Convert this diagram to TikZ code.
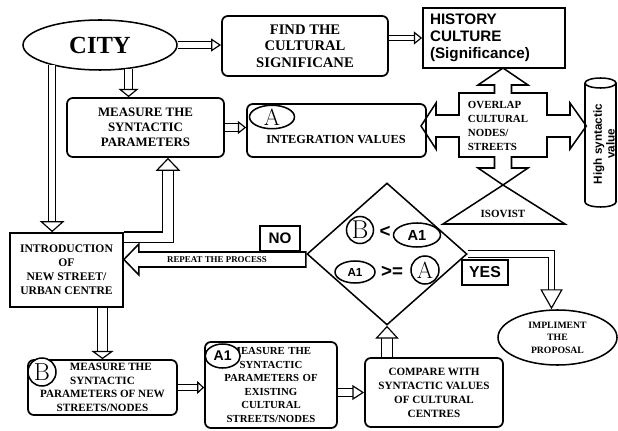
\documentclass[tikz,border=0pt]{standalone}
\usepackage{fontspec}
\newfontfamily\bookfont{Liberation Serif}
\newfontfamily\arialfont{Liberation Sans}
\usetikzlibrary{shapes.geometric,arrows.meta,calc}

\begin{document}
\begin{tikzpicture}[line width=1pt]
      \tikzset{
	  sharpbox/.style={rectangle,draw=black,line width=1.5pt,inner sep=0pt,fill=white},
	  roundbox/.style={rectangle,rounded corners=5pt,draw=black,line width=1.5pt,inner sep=0pt,align=center},
	  oval/.style={ellipse,draw=black,line width=1.3pt,inner sep=0pt,fill=white},
	  roundmark/.style={circle,draw=black,line width=1.3pt,inner sep=0pt,fill=white},
	  outline/.style={draw=black,line width=1.3pt},
	  serif/.style 2 args={font=\bookfont\bfseries\fontsize{#1}{#2}\selectfont,align=center},
	  sans/.style 2 args={font=\arialfont\bfseries\fontsize{#1}{#2}\selectfont},
	  dblarrow/.style n args={3}{line width=1pt,double,double distance=#1,-{Triangle[open,length=#2,width=#3]}}
      }

      \useasboundingbox (0,0) rectangle (18.54,12.9);

      \def\crosspath{+(0,1.74) -- +(0.75,1.23) -- +(0.255,1.23) -- +(0.255,0.99) -- +(1.32,0.99) -- +(1.32,0.33) -- +(2.01,0.33) -- +(2.01,0.69) -- +(2.5,0) -- +(2.01,-0.69) -- +(2.01,-0.33) -- +(1.32,-0.33) -- +(1.32,-0.93) -- +(0.255,-0.93) -- +(0.255,-1.26) -- +(0.75,-1.26) -- +(0,-1.77) -- +(-0.75,-1.26) -- +(-0.255,-1.26) -- +(-0.255,-0.93) -- +(-1.32,-0.93) -- +(-1.32,-0.33) -- +(-2.01,-0.33) -- +(-2.01,-0.69) -- +(-2.46,0) -- +(-2.01,0.69) -- +(-2.01,0.33) -- +(-1.32,0.33) -- +(-1.32,0.99) -- +(-0.255,0.99) -- +(-0.255,1.23) -- +(-0.75,1.23) -- cycle}

      \def\repeatpath{-- +(0.45,0.465) -- +(0.45,0.225) -- +(5.46,0.225) -- +(5.46,-0.225) -- +(0.45,-0.225) -- +(0.45,-0.465) -- cycle}

      % top row
      \node[oval,minimum width=4.62cm,minimum height=1.5cm,serif={21}{21}] (city) at (3.0,11.55) {CITY};
      \node[roundbox,minimum width=4.98cm,minimum height=1.8cm,serif={12.5}{14}] (find) at (9.15,11.52) {FIND THE\\CULTURAL\\SIGNIFICANE};
      \node[sharpbox,minimum width=4.26cm,minimum height=1.8cm,text width=3.84cm,inner xsep=0.21cm,align=left,sans={13}{14.6}] (hist) at (14.82,11.76) {HISTORY\\CULTURE\\(Significance)};

      % second row
      \node[roundbox,minimum width=4.71cm,minimum height=1.77cm,serif={11}{12.75}] (measure) at (4.365,9.075) {MEASURE THE\\SYNTACTIC\\PARAMETERS};
      \node[roundbox,minimum width=5.37cm,minimum height=1.59cm] (integ) at (10.095,8.985) {};
      \node[serif={10.5}{12}] (integtext) at (10.08,8.7) {INTEGRATION VALUES};
      \node[oval,minimum width=1.35cm,minimum height=0.66cm,font=\fontsize{20}{20}\selectfont] (amark) at (8.16,9.39) {A};

      \coordinate (ov) at (15.09,9.12);
      \draw[outline] (ov) \crosspath;
      \node[serif={9.3}{12},align=left] (overlap) at (14.94,9.12) {OVERLAP\\CULTURAL\\NODES/\\STREETS};
      \draw[outline] (ov) ++(0,-1.77) -- (16.95,6.18) -- (13.29,6.18) -- cycle;
      \node[serif={9.4}{10}] (isovist) at (15.09,6.48) {ISOVIST};

      % cylinder
      \draw[outline] (17.55,10.41) -- (17.55,6.84) arc[start angle=180,end angle=360,x radius=0.465,y radius=0.15] -- (18.48,10.41);
      \draw[outline] (18.015,10.41) ellipse[x radius=0.465,y radius=0.15];
      \node[rotate=90,inner sep=0pt,sans={10}{11},align=center] (high) at (18.12,8.58) {High syntactic\\value};

      % decision
      \node[diamond,draw,line width=1.3pt,minimum width=4.8cm,minimum height=4.26cm,inner sep=0pt] (dia) at (11.61,5.28) {};
      \node[roundmark,minimum size=0.81cm,font=\fontsize{22}{22}\selectfont] (bmark) at (10.8,6.0) {B};
      \node[sans={16}{16}] (less) at (11.55,5.94) {<};
      \node[oval,minimum width=1.41cm,minimum height=0.72cm,sans={12.5}{12.5}] (aonetop) at (12.51,5.85) {A1};
      \node[oval,minimum width=1.2cm,minimum height=0.66cm,sans={10}{10}] (aonelow) at (10.65,4.74) {A1};
      \node[sans={16}{16}] (geq) at (11.76,4.74) {>=};
      \node[roundmark,minimum size=0.84cm,font=\fontsize{20}{20}\selectfont] (amarktwo) at (12.75,4.8) {A};

      \node[sharpbox,minimum width=3.39cm,minimum height=2.22cm,serif={9.9}{12}] (intro) at (1.995,4.8) {INTRODUCTION\\OF\\NEW STREET/\\URBAN CENTRE};
      \draw[outline,fill=white] (intro.east |- 0,5.115) \repeatpath;
      \node[serif={7.6}{8}] (repeat) at (6.51,5.115) {REPEAT THE PROCESS};
      \node[sharpbox,minimum width=1.2cm,minimum height=0.75cm,sans={13}{13}] (no) at (8.4,5.745) {NO};
      \node[sharpbox,minimum width=1.38cm,minimum height=0.75cm,sans={13.5}{13.5}] (yes) at (14.55,4.725) {YES};

      % bottom row
      \node[roundbox,minimum width=4.47cm,minimum height=1.65cm,serif={9.5}{11.5}] (mb) at (3.075,1.275) {\hspace*{1.5em}MEASURE THE\\SYNTACTIC\\PARAMETERS OF NEW\\STREETS/NODES};
      \node[roundmark,minimum size=0.84cm,font=\fontsize{21}{21}\selectfont] (bmarktwo) at (1.26,1.74) {B};
      \node[roundbox,minimum width=3.96cm,minimum height=2.58cm,text width=3.3cm,inner xsep=0.33cm,align=right,serif={9.2}{11.6}] (ma) at (8.13,1.35) {MEASURE THE\\SYNTACTIC\\PARAMETERS OF\\EXISTING\\CULTURAL\\STREETS/NODES};
      \node[oval,minimum width=1.05cm,minimum height=0.72cm,sans={12}{12}] (aonebox) at (6.68,2.22) {A1};
      \node[roundbox,minimum width=4.14cm,minimum height=2.07cm,serif={9.5}{12}] (cmp) at (13.02,1.125) {COMPARE WITH\\SYNTACTIC VALUES\\OF CULTURAL\\CENTRES};
      \node[oval,minimum width=3.57cm,minimum height=1.65cm,serif={8.3}{10.6}] (impl) at (16.725,2.775) {IMPLIMENT\\THE\\PROPOSAL};

      % arrows
      \draw[dblarrow={4.3pt}{8.5pt}{11pt}] (city.east) -- (city.east -| find.west);
      \draw[dblarrow={3.5pt}{7pt}{11pt}] (find.east |- hist.west) -- (hist.west);
      \draw[dblarrow={6pt}{7pt}{17pt}] (city.-40) -- (city.-40 |- measure.north);
      \draw[dblarrow={5.2pt}{9.4pt}{21pt}] (city.-157) -- (city.-157 |- intro.north);
      \draw[dblarrow={5.2pt}{7pt}{11pt}] (measure.east) -- (measure.east -| integ.west);
      \draw[dblarrow={7.7pt}{11pt}{21pt}] ($(intro.north east)+(0,-0.15)$) -| ($(measure.south)+(0.675,0)$);
      \draw[dblarrow={6.9pt}{7pt}{19pt}] (intro.south -| mb.north) -- (mb.north);
      \draw[dblarrow={4.3pt}{6pt}{11pt}] (mb.east) -- (mb.east -| ma.west);
      \draw[dblarrow={5.2pt}{10pt}{12.7pt}] (cmp.west -| ma.east) -- (cmp.west);
      \draw[dblarrow={7.7pt}{11pt}{20pt}] (cmp.north -| dia.south) -- (dia.south);
      \draw[dblarrow={4.3pt}{17pt}{19pt}] (dia.east) -| ($(impl.north)+(-0.18,0)$);
    \end{tikzpicture}
\end{document}
